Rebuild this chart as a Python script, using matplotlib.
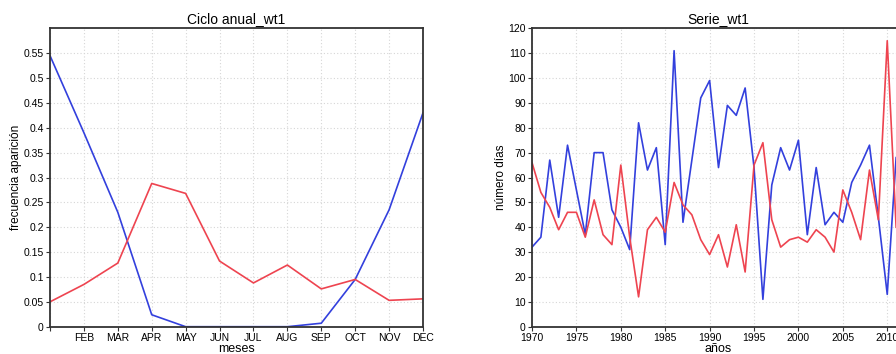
import matplotlib
matplotlib.use("Agg")
import matplotlib.pyplot as plt
import numpy as np

plt.rcParams['font.family'] = ['Liberation Sans', 'DejaVu Sans']

# ---- Data: annual cycle ----
months = list(range(1, 13))
month_labels = ["", "FEB", "MAR", "APR", "MAY", "JUN", "JUL", "AUG", "SEP", "OCT", "NOV", "DEC"]
cycle_blue = [0.545, 0.39, 0.23, 0.024, 0.0, 0.0, 0.0, 0.0, 0.007, 0.095, 0.235, 0.43]
cycle_red = [0.05, 0.085, 0.128, 0.288, 0.268, 0.132, 0.088, 0.124, 0.076, 0.095, 0.053, 0.056]

# ---- Data: yearly series ----
years = list(range(1970, 2012))
serie_blue = [32, 36, 67, 44, 73, 55, 37, 70, 70, 47, 40, 31, 82, 63, 72, 33,
              111, 42, 67, 92, 99, 64, 89, 85, 96, 64, 11, 57, 72, 63, 75, 37,
              64, 41, 46, 42, 58, 65, 73, 44, 13, 68]
serie_red = [66, 54, 48, 39, 46, 46, 36, 51, 37, 33, 65, 36, 12, 39, 44, 38,
             58, 49, 45, 35, 29, 37, 24, 41, 22, 65, 74, 43, 32, 35, 36, 34,
             39, 36, 30, 55, 46, 35, 63, 43, 115, 40]

BLUE = "#3340dd"
RED = "#ee4450"
SPINE = "#333333"
GRID = dict(color="#d6d6d6", linestyle=(0, (1, 2)), linewidth=0.8)

fig = plt.figure(figsize=(8.96, 3.54), dpi=100)

ax1 = fig.add_axes([50/896, 27.3/354, 373/896, 298.4/354])
ax2 = fig.add_axes([532/896, 27.3/354, 373/896, 298.4/354])

for ax in (ax1, ax2):
    for s in ax.spines.values():
        s.set_color(SPINE)
        s.set_linewidth(1.3)
    ax.tick_params(axis='both', labelsize=7.5, length=3, width=0.8, color=SPINE, pad=1.5)
    ax.grid(True, **GRID)
    ax.set_axisbelow(True)

# Left panel
ax1.plot(months, cycle_blue, color=BLUE, linewidth=1.2)
ax1.plot(months, cycle_red, color=RED, linewidth=1.2)
ax1.set_xlim(1, 12)
ax1.set_ylim(0, 0.6)
ax1.set_xticks(months)
ax1.set_xticklabels(month_labels)
yt = np.round(np.arange(0, 0.551, 0.05), 2)
ax1.set_yticks(yt)
ax1.set_yticklabels(["0" if v == 0 else f"{v:g}" for v in yt])
ax1.set_title("Ciclo anual_wt1", fontsize=10, pad=4)
ax1.set_xlabel("meses", fontsize=9, labelpad=0)
ax1.set_ylabel("frecuencia aparición", fontsize=8.5, labelpad=1)

# Right panel
ax2.plot(years, serie_blue, color=BLUE, linewidth=1.2)
ax2.plot(years, serie_red, color=RED, linewidth=1.2)
ax2.set_xlim(1970, 2012)
ax2.set_ylim(0, 120)
ax2.set_xticks(list(range(1970, 2011, 5)))
ax2.set_yticks(list(range(0, 121, 10)))
ax2.set_title("Serie_wt1", fontsize=10, pad=4)
ax2.set_xlabel("años", fontsize=9, labelpad=0)
ax2.set_ylabel("número días", fontsize=8.5, labelpad=1)

fig.savefig("out.png", dpi=100)
